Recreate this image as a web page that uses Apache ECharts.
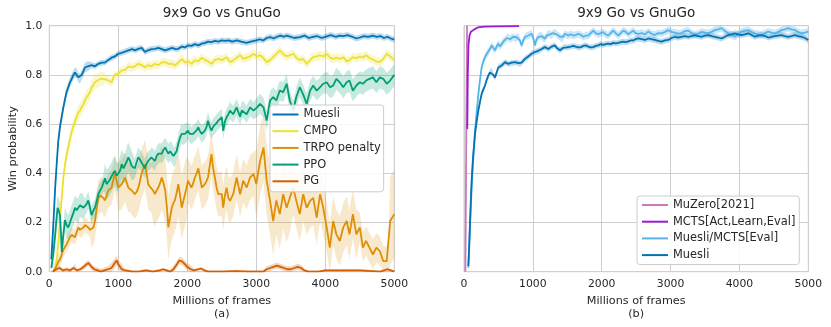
<!DOCTYPE html>
<html><head><meta charset="utf-8">
<script src="https://cdn.jsdelivr.net/npm/echarts@6/dist/echarts.min.js"></script>
<style>html,body{margin:0;padding:0;background:#fff}#c{width:831px;height:327px}</style>
</head><body><div id="c"></div>
<script>
// ---------- data ----------
const xTicks = [0, 1000, 2000, 3000, 4000, 5000];
const yTicks = [0.0, 0.2, 0.4, 0.6, 0.8, 1.0];
const titleText = '9x9 Go vs GnuGo';
const xName = 'Millions of frames';
const yName = 'Win probability';

// (a) left panel, [frames, win probability]
const muesliA = [[30,0.05],[60,0.2],[85,0.34],[110,0.45],[130,0.53],[155,0.59],[180,0.63],[205,0.67],[227,0.70],[250,0.73],[275,0.75],[300,0.77],[324,0.784],[350,0.80],[372,0.81],[400,0.805],[420,0.79],[445,0.785],[469,0.80],[495,0.815],[517,0.83],[560,0.835],[613,0.84],[660,0.835],[710,0.845],[758,0.85],[805,0.85],[850,0.86],[903,0.87],[950,0.875],[1000,0.886],[1050,0.89],[1100,0.895],[1145,0.90],[1200,0.905],[1245,0.90],[1290,0.906],[1340,0.91],[1386,0.893],[1430,0.9],[1480,0.905],[1530,0.906],[1580,0.91],[1630,0.905],[1680,0.90],[1730,0.905],[1780,0.91],[1830,0.905],[1870,0.906],[1920,0.915],[1970,0.912],[2010,0.92],[2060,0.918],[2110,0.925],[2160,0.92],[2210,0.927],[2260,0.93],[2300,0.935],[2350,0.933],[2400,0.938],[2450,0.935],[2500,0.94],[2550,0.938],[2600,0.94],[2650,0.935],[2720,0.94],[2780,0.935],[2860,0.93],[2920,0.935],[3000,0.94],[3050,0.945],[3100,0.94],[3150,0.95],[3200,0.954],[3250,0.948],[3300,0.955],[3350,0.96],[3400,0.955],[3440,0.96],[3500,0.955],[3550,0.95],[3630,0.954],[3700,0.96],[3760,0.95],[3820,0.955],[3880,0.958],[3950,0.95],[4020,0.957],[4080,0.962],[4150,0.955],[4210,0.96],[4260,0.958],[4320,0.962],[4400,0.954],[4450,0.948],[4500,0.952],[4560,0.958],[4620,0.955],[4690,0.96],[4740,0.955],[4800,0.958],[4850,0.95],[4900,0.955],[4950,0.948],[5000,0.943]];
const cmpoA = [[80,0.0],[110,0.05],[135,0.13],[155,0.21],[180,0.3],[203,0.38],[230,0.44],[255,0.48],[275,0.505],[300,0.54],[325,0.57],[348,0.59],[372,0.61],[396,0.63],[420,0.645],[445,0.655],[469,0.67],[495,0.68],[520,0.70],[545,0.71],[565,0.716],[590,0.73],[615,0.75],[640,0.76],[662,0.77],[690,0.775],[720,0.78],[750,0.785],[783,0.784],[810,0.79],[840,0.78],[870,0.775],[903,0.77],[930,0.79],[950,0.80],[975,0.795],[1000,0.805],[1050,0.818],[1100,0.82],[1150,0.835],[1193,0.83],[1240,0.835],[1290,0.845],[1340,0.84],[1386,0.83],[1430,0.84],[1480,0.835],[1530,0.845],[1580,0.84],[1630,0.85],[1680,0.852],[1730,0.845],[1780,0.845],[1820,0.838],[1870,0.85],[1920,0.865],[1970,0.85],[2010,0.855],[2060,0.845],[2110,0.86],[2160,0.855],[2210,0.87],[2260,0.86],[2300,0.855],[2350,0.845],[2400,0.86],[2450,0.865],[2500,0.86],[2570,0.872],[2620,0.852],[2670,0.86],[2765,0.88],[2810,0.865],[2860,0.87],[2910,0.875],[2960,0.886],[3010,0.875],[3055,0.88],[3100,0.87],[3150,0.852],[3200,0.86],[3245,0.872],[3290,0.885],[3340,0.9],[3390,0.885],[3440,0.875],[3490,0.88],[3535,0.886],[3580,0.87],[3630,0.86],[3680,0.865],[3730,0.845],[3780,0.86],[3825,0.872],[3875,0.875],[3925,0.88],[3970,0.875],[4020,0.886],[4070,0.87],[4115,0.865],[4160,0.87],[4210,0.865],[4260,0.872],[4310,0.855],[4350,0.86],[4400,0.872],[4450,0.868],[4500,0.875],[4545,0.87],[4590,0.88],[4640,0.868],[4690,0.862],[4740,0.855],[4790,0.852],[4840,0.865],[4890,0.886],[4940,0.875],[5000,0.86]];
const trpoA = [[58,0.0],[100,0.02],[130,0.04],[155,0.05],[180,0.07],[205,0.09],[227,0.1],[250,0.11],[275,0.125],[300,0.14],[324,0.15],[350,0.145],[372,0.14],[396,0.16],[420,0.18],[445,0.17],[469,0.166],[495,0.18],[517,0.19],[540,0.185],[565,0.18],[590,0.17],[613,0.166],[640,0.18],[662,0.206],[690,0.26],[710,0.30],[735,0.31],[758,0.315],[783,0.30],[807,0.29],[830,0.31],[855,0.33],[880,0.335],[903,0.342],[925,0.37],[950,0.40],[975,0.37],[1000,0.342],[1025,0.35],[1050,0.356],[1075,0.37],[1100,0.383],[1125,0.36],[1145,0.342],[1170,0.345],[1195,0.33],[1240,0.315],[1265,0.325],[1290,0.34],[1315,0.37],[1338,0.40],[1365,0.42],[1386,0.437],[1410,0.40],[1433,0.356],[1460,0.345],[1480,0.342],[1505,0.33],[1530,0.315],[1555,0.33],[1580,0.342],[1605,0.36],[1630,0.383],[1655,0.36],[1680,0.33],[1705,0.26],[1725,0.18],[1750,0.22],[1775,0.26],[1800,0.28],[1820,0.29],[1845,0.32],[1870,0.356],[1895,0.31],[1920,0.26],[1945,0.29],[1966,0.315],[1990,0.34],[2010,0.37],[2035,0.355],[2060,0.342],[2085,0.36],[2110,0.383],[2135,0.40],[2160,0.42],[2185,0.38],[2210,0.342],[2230,0.35],[2255,0.356],[2280,0.37],[2300,0.383],[2325,0.43],[2350,0.478],[2375,0.42],[2400,0.383],[2425,0.34],[2450,0.315],[2475,0.315],[2500,0.315],[2520,0.26],[2545,0.31],[2570,0.342],[2595,0.30],[2618,0.288],[2665,0.315],[2715,0.383],[2765,0.315],[2810,0.37],[2860,0.342],[2910,0.383],[2960,0.397],[3000,0.356],[3055,0.45],[3105,0.505],[3150,0.37],[3200,0.288],[3245,0.206],[3290,0.29],[3340,0.234],[3390,0.315],[3440,0.26],[3485,0.30],[3535,0.342],[3580,0.288],[3630,0.234],[3680,0.315],[3730,0.26],[3780,0.288],[3825,0.30],[3875,0.22],[3925,0.315],[3970,0.26],[4020,0.18],[4065,0.098],[4115,0.206],[4160,0.152],[4210,0.125],[4260,0.18],[4310,0.206],[4350,0.152],[4400,0.234],[4450,0.152],[4500,0.18],[4545,0.098],[4590,0.125],[4640,0.098],[4690,0.07],[4740,0.098],[4790,0.084],[4840,0.043],[4890,0.043],[4915,0.05],[4940,0.206],[5000,0.234]];
const ppoA = [[30,0.016],[60,0.08],[82,0.14],[100,0.2],[120,0.26],[135,0.25],[155,0.23],[170,0.15],[180,0.08],[200,0.14],[227,0.21],[250,0.19],[275,0.18],[300,0.2],[324,0.22],[350,0.24],[372,0.26],[396,0.25],[420,0.25],[445,0.27],[469,0.27],[495,0.26],[517,0.26],[540,0.275],[565,0.29],[590,0.26],[613,0.23],[640,0.25],[662,0.26],[690,0.29],[710,0.315],[735,0.33],[758,0.34],[783,0.36],[807,0.38],[830,0.356],[855,0.36],[880,0.375],[903,0.383],[925,0.40],[950,0.41],[975,0.39],[1000,0.383],[1025,0.41],[1050,0.437],[1075,0.42],[1100,0.42],[1125,0.45],[1145,0.465],[1170,0.45],[1195,0.43],[1240,0.42],[1265,0.445],[1290,0.465],[1315,0.455],[1338,0.45],[1365,0.43],[1386,0.42],[1410,0.44],[1433,0.45],[1460,0.455],[1480,0.465],[1505,0.46],[1530,0.45],[1555,0.47],[1580,0.48],[1605,0.485],[1630,0.48],[1655,0.495],[1680,0.505],[1705,0.49],[1725,0.48],[1750,0.49],[1775,0.485],[1800,0.47],[1820,0.465],[1845,0.49],[1870,0.52],[1895,0.545],[1920,0.56],[1945,0.555],[1966,0.56],[1990,0.565],[2010,0.573],[2035,0.56],[2060,0.553],[2085,0.56],[2110,0.565],[2135,0.575],[2160,0.587],[2185,0.57],[2210,0.56],[2230,0.565],[2255,0.573],[2280,0.59],[2300,0.614],[2325,0.59],[2350,0.573],[2375,0.59],[2400,0.595],[2425,0.605],[2450,0.614],[2475,0.62],[2500,0.628],[2520,0.573],[2545,0.61],[2570,0.628],[2595,0.64],[2618,0.655],[2665,0.64],[2715,0.668],[2765,0.63],[2790,0.655],[2810,0.66],[2860,0.64],[2910,0.668],[2960,0.655],[3010,0.668],[3055,0.682],[3105,0.668],[3150,0.614],[3200,0.696],[3245,0.71],[3290,0.696],[3340,0.736],[3390,0.73],[3440,0.764],[3485,0.696],[3535,0.655],[3580,0.71],[3630,0.75],[3680,0.72],[3730,0.682],[3780,0.736],[3825,0.757],[3875,0.736],[3925,0.75],[3970,0.764],[4020,0.77],[4070,0.75],[4115,0.757],[4160,0.784],[4210,0.77],[4260,0.75],[4310,0.77],[4350,0.777],[4400,0.736],[4450,0.757],[4500,0.77],[4545,0.764],[4590,0.777],[4640,0.784],[4690,0.79],[4740,0.77],[4790,0.79],[4840,0.784],[4890,0.764],[4940,0.777],[5000,0.80]];
const pgA = [[50,0.0],[100,0.01],[150,0.015],[200,0.005],[250,0.01],[300,0.005],[350,0.015],[372,0.023],[400,0.005],[450,0.01],[500,0.02],[540,0.03],[570,0.035],[610,0.02],[650,0.01],[700,0.005],[750,0.0],[800,0.005],[850,0.01],[900,0.015],[950,0.035],[975,0.046],[1000,0.03],[1050,0.01],[1100,0.005],[1200,0.0],[1300,0.0],[1400,0.005],[1500,0.0],[1600,0.005],[1650,0.01],[1700,0.005],[1750,0.0],[1800,0.01],[1850,0.03],[1880,0.045],[1920,0.043],[1950,0.035],[2000,0.02],[2050,0.01],[2100,0.005],[2200,0.013],[2250,0.005],[2300,0.0],[2500,0.0],[2700,0.002],[2900,0.0],[3100,0.0],[3150,0.01],[3200,0.015],[3250,0.02],[3300,0.025],[3350,0.02],[3400,0.015],[3450,0.01],[3500,0.01],[3550,0.015],[3600,0.02],[3650,0.015],[3700,0.005],[3750,0.0],[3900,0.0],[4000,0.005],[4500,0.005],[4800,0.0],[4900,0.01],[4950,0.005],[5000,0.0]];

// (b) right panel
const muzeroB = [[20,0.0],[44,1.0]];
const mctsB = [[48,0.58],[55,0.8],[65,0.92],[80,0.96],[100,0.975],[150,0.985],[200,0.993],[300,0.996],[500,0.997],[800,0.998]];
const muesliMctsB = [[63,0.016],[87,0.18],[111,0.34],[135,0.46],[160,0.573],[184,0.65],[208,0.72],[232,0.78],[256,0.83],[280,0.855],[305,0.872],[330,0.885],[353,0.893],[377,0.905],[401,0.92],[425,0.91],[450,0.90],[474,0.915],[498,0.927],[522,0.915],[546,0.925],[570,0.935],[595,0.94],[620,0.95],[643,0.954],[668,0.945],[692,0.95],[716,0.955],[740,0.947],[765,0.953],[790,0.955],[812,0.94],[837,0.92],[860,0.94],[885,0.954],[910,0.958],[933,0.96],[958,0.965],[982,0.967],[1006,0.95],[1030,0.92],[1054,0.945],[1078,0.954],[1103,0.96],[1127,0.958],[1151,0.95],[1175,0.947],[1200,0.96],[1224,0.967],[1248,0.965],[1272,0.96],[1296,0.97],[1320,0.974],[1345,0.965],[1369,0.96],[1393,0.955],[1417,0.947],[1441,0.955],[1466,0.967],[1490,0.962],[1514,0.96],[1550,0.965],[1587,0.96],[1623,0.962],[1660,0.967],[1697,0.962],[1733,0.955],[1770,0.96],[1805,0.96],[1840,0.97],[1877,0.98],[1913,0.97],[1950,0.965],[1985,0.97],[2020,0.974],[2057,0.965],[2093,0.96],[2130,0.97],[2167,0.98],[2203,0.97],[2240,0.96],[2276,0.97],[2312,0.98],[2350,0.975],[2385,0.965],[2420,0.972],[2457,0.98],[2490,0.97],[2530,0.967],[2580,0.97],[2630,0.965],[2675,0.976],[2720,0.968],[2770,0.962],[2820,0.97],[2870,0.969],[2920,0.975],[2966,0.982],[3015,0.975],[3063,0.972],[3110,0.968],[3160,0.97],[3210,0.978],[3256,0.98],[3305,0.97],[3353,0.962],[3400,0.968],[3450,0.975],[3500,0.972],[3547,0.969],[3595,0.975],[3643,0.982],[3690,0.985],[3740,0.99],[3790,0.978],[3838,0.969],[3885,0.962],[3934,0.955],[3980,0.965],[4030,0.976],[4080,0.98],[4127,0.982],[4175,0.975],[4224,0.969],[4270,0.965],[4321,0.962],[4370,0.97],[4418,0.976],[4465,0.972],[4515,0.969],[4563,0.975],[4611,0.982],[4660,0.985],[4708,0.99],[4755,0.985],[4804,0.982],[4850,0.975],[4900,0.969],[4950,0.972],[5000,0.976]];
const muesliB = [[63,0.023],[75,0.1],[87,0.2],[99,0.29],[111,0.37],[123,0.43],[135,0.478],[148,0.52],[160,0.56],[184,0.61],[208,0.655],[232,0.69],[256,0.723],[280,0.74],[305,0.757],[330,0.78],[353,0.797],[377,0.81],[401,0.818],[425,0.8],[450,0.79],[474,0.81],[498,0.83],[522,0.835],[546,0.838],[570,0.845],[595,0.852],[620,0.848],[643,0.845],[667,0.845],[692,0.85],[716,0.848],[740,0.852],[765,0.85],[790,0.848],[812,0.845],[837,0.85],[860,0.858],[885,0.865],[910,0.87],[933,0.875],[958,0.88],[982,0.886],[1006,0.89],[1030,0.893],[1054,0.895],[1078,0.898],[1103,0.90],[1127,0.905],[1151,0.91],[1175,0.913],[1200,0.91],[1224,0.905],[1248,0.91],[1272,0.915],[1296,0.918],[1320,0.92],[1345,0.91],[1369,0.905],[1393,0.90],[1417,0.905],[1441,0.91],[1466,0.915],[1490,0.912],[1514,0.913],[1550,0.915],[1587,0.918],[1623,0.915],[1660,0.912],[1697,0.913],[1733,0.918],[1770,0.92],[1805,0.915],[1840,0.912],[1877,0.913],[1913,0.918],[1950,0.92],[1985,0.925],[2020,0.922],[2057,0.925],[2093,0.927],[2130,0.925],[2167,0.93],[2203,0.928],[2240,0.93],[2276,0.933],[2312,0.935],[2350,0.933],[2385,0.936],[2420,0.94],[2457,0.94],[2490,0.945],[2530,0.948],[2580,0.945],[2630,0.942],[2675,0.948],[2720,0.945],[2772,0.942],[2820,0.938],[2870,0.935],[2920,0.94],[2966,0.942],[3015,0.95],[3063,0.955],[3110,0.952],[3160,0.955],[3210,0.958],[3256,0.955],[3305,0.958],[3353,0.962],[3400,0.958],[3450,0.955],[3500,0.96],[3547,0.962],[3595,0.958],[3643,0.955],[3690,0.952],[3740,0.948],[3790,0.955],[3838,0.962],[3885,0.965],[3934,0.969],[3980,0.965],[4030,0.962],[4080,0.965],[4127,0.969],[4175,0.962],[4224,0.955],[4270,0.96],[4321,0.962],[4370,0.958],[4418,0.952],[4465,0.955],[4515,0.958],[4563,0.96],[4611,0.962],[4660,0.958],[4708,0.955],[4755,0.958],[4804,0.962],[4850,0.958],[4900,0.955],[4950,0.95],[5000,0.942]];

// shaded spread (half width), by segment start [frames, half width]
const muesliABand = [[0,0.02],[600,0.012]];
const cmpoABand = [[0,0.03],[800,0.018]];
const trpoABand = [[0,0.03],[600,0.07],[1000,0.1],[1500,0.13],[2000,0.09],[2500,0.09],[3000,0.14],[3500,0.11],[4000,0.1],[4500,0.06],[4920,0.18]];
const ppoABand = [[0,0.05],[500,0.035],[800,0.06],[1200,0.04],[2000,0.035],[3000,0.04],[4000,0.045]];
const pgABand = [[0,0.008],[500,0.012],[900,0.02],[1100,0.006],[1800,0.015],[2100,0.006],[3150,0.012],[3700,0.005]];
const muesliMctsBBand = [[0,0.015]];
const muesliBBand = [[0,0.012]];

// ---------- chart ----------
const FONT = 'DejaVu Sans';
const TXT = '#262626';
const GRIDC = '#cfcfcf';
const C = {muesli:'#0173b2', cmpo:'#ece133', trpo:'#de8f05', ppo:'#029e73', pg:'#d55e00',
           muzero:'#cc78bc', mcts:'#9b1ad6', mmcts:'#56b4e9'};

function halfAt(segs, x) { let h = segs[0][1]; for (const s of segs) if (x >= s[0]) h = s[1]; return h; }

function band(pts, segs, color, gi, op) {
  return {
    type: 'custom', name: '_band', xAxisIndex: gi, yAxisIndex: gi, silent: true, z: 1,
    data: [[0, 0]],
    renderItem: function (params, api) {
      const up = [], lo = [];
      pts.forEach(function (p) {
        const h = halfAt(segs, p[0]);
        up.push(api.coord([p[0], Math.min(1, p[1] + h)]));
        lo.push(api.coord([p[0], Math.max(0, p[1] - h)]));
      });
      return { type: 'polygon', shape: { points: up.concat(lo.reverse()) }, style: { fill: color, opacity: op } };
    }
  };
}
function line(name, pts, color, gi, w) {
  return { type: 'line', name: name, xAxisIndex: gi, yAxisIndex: gi, data: pts, showSymbol: false, symbol: 'none',
    lineStyle: { color: color, width: w || 1.8 }, itemStyle: { color: color }, z: 3, silent: true };
}

const gridL = { left: 49.3, top: 25.7, width: 345, height: 246 };
const gridR = { left: 464, top: 25.7, width: 344.3, height: 246 };

function xAxis(gi) {
  return { type: 'value', gridIndex: gi, min: 0, max: 5000, interval: 1000,
    name: xName + '\n(' + (gi === 0 ? 'a' : 'b') + ')', nameLocation: 'middle', nameGap: 21,
    nameTextStyle: { fontFamily: FONT, fontSize: 11.2, color: TXT, lineHeight: 13 },
    axisLine: { show: false }, axisTick: { show: false },
    axisLabel: { fontFamily: FONT, fontSize: 10.8, color: TXT, margin: 7,
      formatter: function (v) { return String(v); } },
    splitLine: { show: true, lineStyle: { color: GRIDC, width: 1 } } };
}
function yAxis(gi) {
  return { type: 'value', gridIndex: gi, min: 0, max: 1, interval: 0.2,
    name: gi === 0 ? yName : '', nameLocation: 'middle', nameGap: 31,
    nameTextStyle: { fontFamily: FONT, fontSize: 11.3, color: TXT },
    axisLine: { show: false }, axisTick: { show: false },
    axisLabel: { show: gi === 0, fontFamily: FONT, fontSize: 10.8, color: TXT, margin: 7,
      formatter: function (v) { return v.toFixed(1); } },
    splitLine: { show: true, lineStyle: { color: GRIDC, width: 1 } } };
}
const legendCommon = {
  orient: 'vertical', itemWidth: 26, itemHeight: 2, icon: 'rect', itemGap: 3.7,
  backgroundColor: 'rgba(255,255,255,0.85)', borderColor: '#cccccc', borderWidth: 1, borderRadius: 3,
  textStyle: { fontFamily: FONT, fontSize: 11.4, color: TXT, lineHeight: 13 },
  selectedMode: false
};

const chart = echarts.init(document.getElementById('c'), null, { renderer: 'canvas' });
chart.setOption({
  animation: false,
  backgroundColor: '#ffffff',
  title: [
    { text: titleText, left: 221.8, top: 6, textAlign: 'center', padding: 0,
      textStyle: { fontFamily: FONT, fontSize: 13.5, fontWeight: 'normal', color: TXT } },
    { text: titleText, left: 636.2, top: 6, textAlign: 'center', padding: 0,
      textStyle: { fontFamily: FONT, fontSize: 13.5, fontWeight: 'normal', color: TXT } }
  ],
  grid: [
    Object.assign({ show: true, borderColor: GRIDC, borderWidth: 1, backgroundColor: '#fff' }, gridL),
    Object.assign({ show: true, borderColor: GRIDC, borderWidth: 1, backgroundColor: '#fff' }, gridR)
  ],
  xAxis: [xAxis(0), xAxis(1)],
  yAxis: [yAxis(0), yAxis(1)],
  legend: [
    Object.assign({}, legendCommon, { left: 270, top: 105, padding: [3, 3, 4, 2.5],
      data: ['Muesli', 'CMPO', 'TRPO penalty', 'PPO', 'PG'] }),
    Object.assign({}, legendCommon, { left: 637, top: 196, padding: [2.5, 4, 3, 5],
      data: ['MuZero[2021]', 'MCTS[Act,Learn,Eval]', 'Muesli/MCTS[Eval]', 'Muesli'] })
  ],
  series: [
    band(muesliA, muesliABand, C.muesli, 0, 0.25),
    band(cmpoA, cmpoABand, C.cmpo, 0, 0.25),
    band(trpoA, trpoABand, C.trpo, 0, 0.2),
    band(ppoA, ppoABand, C.ppo, 0, 0.22),
    band(pgA, pgABand, C.pg, 0, 0.25),
    line('Muesli', muesliA, C.muesli, 0),
    line('CMPO', cmpoA, C.cmpo, 0),
    line('TRPO penalty', trpoA, C.trpo, 0),
    line('PPO', ppoA, C.ppo, 0),
    line('PG', pgA, C.pg, 0),
    band(muesliMctsB, muesliMctsBBand, C.mmcts, 1, 0.3),
    band(muesliB, muesliBBand, C.muesli, 1, 0.25),
    line('MuZero[2021]', muzeroB, C.muzero, 1),
    line('MCTS[Act,Learn,Eval]', mctsB, C.mcts, 1),
    line('Muesli/MCTS[Eval]', muesliMctsB, C.mmcts, 1),
    line('Muesli', muesliB, C.muesli, 1)
  ]
});
</script></body></html>
